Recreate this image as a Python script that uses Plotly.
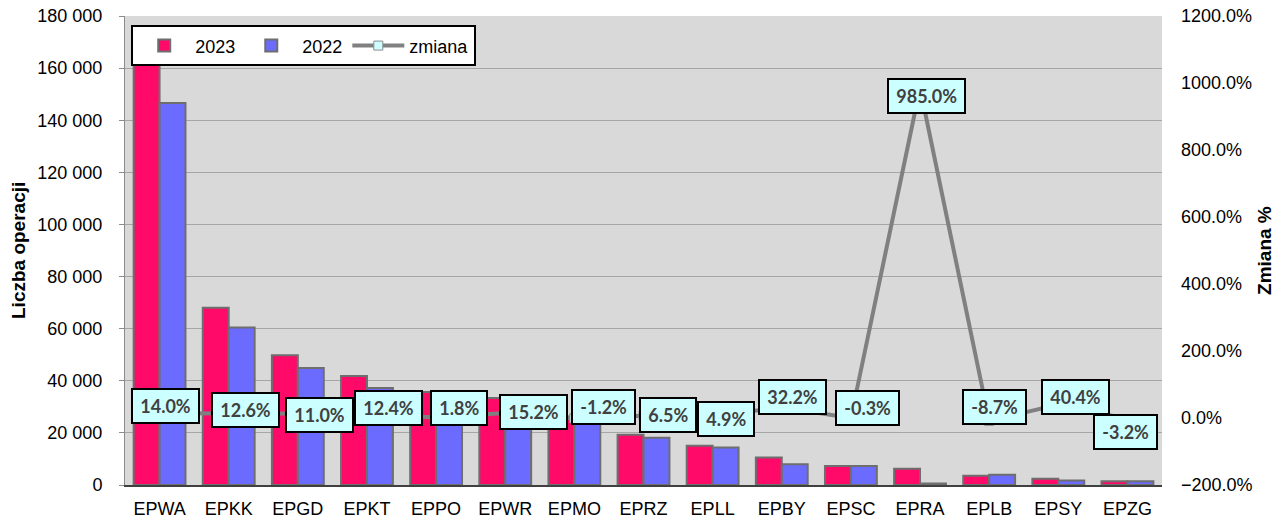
import plotly.graph_objects as go

categories = ["EPWA", "EPKK", "EPGD", "EPKT", "EPPO", "EPWR", "EPMO", "EPRZ",
              "EPLL", "EPBY", "EPSC", "EPRA", "EPLB", "EPSY", "EPZG"]
ops_2023 = [167100, 68000, 49800, 41800, 35700, 33400, 26300, 19300,
            15100, 10580, 7300, 6250, 3560, 2390, 1400]
ops_2022 = [146600, 60400, 44900, 37200, 35100, 29000, 26600, 18100,
            14400, 8000, 7320, 576, 3900, 1700, 1450]
change = [0.140, 0.126, 0.110, 0.124, 0.018, 0.152, -0.012, 0.065,
          0.049, 0.322, -0.003, 9.850, -0.087, 0.404, -0.032]
change_labels = ["14.0%", "12.6%", "11.0%", "12.4%", "1.8%", "15.2%", "-1.2%", "6.5%",
                 "4.9%", "32.2%", "-0.3%", "985.0%", "-8.7%", "40.4%", "-3.2%"]

# label offsets (pixels) relative to the line points
label_dx = [6, 17, 22, 22, 23, 28, 29, 24, 13, 11, 17, 6, 5, 17, -2]
label_dy = [7, 4, -1, 6, 9, 1, 11, 1, -3, 10, 10, -8, 14, 7, -13]

fig = go.Figure()
fig.add_trace(go.Bar(
    x=categories, y=ops_2023, name="2023",
    marker=dict(color="#FF0A68", line=dict(color="#6E6E6E", width=2)),
))
fig.add_trace(go.Bar(
    x=categories, y=ops_2022, name="2022",
    marker=dict(color="#6B6BFF", line=dict(color="#6E6E6E", width=2)),
))
fig.add_trace(go.Scatter(
    x=categories, y=change, name="zmiana", yaxis="y2",
    mode="lines+markers",
    line=dict(color="#808080", width=4),
    marker=dict(symbol="square", size=9, color="#CCFFFF",
                line=dict(color="#8C8C8C", width=1)),
))

for c, v, t, dx, dy in zip(categories, change, change_labels, label_dx, label_dy):
    fig.add_annotation(
        x=c, y=v, xref="x", yref="y2", text="\u2009" + t + "\u2009",
        showarrow=False, xshift=dx, yshift=dy,
        font=dict(family="Lato", size=18, color="#404040", weight="bold"),
        bgcolor="#CCFFFF", bordercolor="#000000", borderwidth=2, borderpad=5,
    )

title_font = dict(family="Liberation Sans", size=19, color="#000000")
fig.add_annotation(text="<b>Liczba operacji</b>", xref="paper", yref="paper",
                   x=-0.1027, y=0.5, textangle=-90, showarrow=False,
                   xanchor="center", yanchor="middle", font=title_font)
fig.add_annotation(text="<b>Zmiana %</b>", xref="paper", yref="paper",
                   x=1.0988, y=0.5, textangle=-90, showarrow=False,
                   xanchor="center", yanchor="middle", font=title_font)

tick_font = dict(family="Liberation Sans", size=18, color="#000000")

fig.update_layout(
    width=1275, height=515,
    margin=dict(l=117, r=121, t=8, b=38),
    paper_bgcolor="#FFFFFF",
    plot_bgcolor="#D9D9D9",
    separators=". ",
    barmode="group",
    bargap=0.25,
    bargroupgap=0,
    showlegend=True,
    legend=dict(
        orientation="h", x=0.006, y=0.98, xanchor="left", yanchor="top",
        bgcolor="#FFFFFF", bordercolor="#000000", borderwidth=2,
        font=dict(family="Liberation Sans", size=18, color="#000000"),
        traceorder="normal", itemwidth=52, tracegroupgap=0,
    ),
    xaxis=dict(
        type="category", automargin=False, ticklabeloverflow="allow",
        range=[-0.5, len(categories) - 0.5],
        tickfont=tick_font,
        showgrid=False,
        showline=True, linecolor="#404040", linewidth=2,
        ticks="", ticklabelstandoff=6,
    ),
    yaxis=dict(
        range=[0, 180000], dtick=20000, tickformat=",d", automargin=False,
        ticklabeloverflow="allow",
        tickfont=tick_font,
        showgrid=True, gridcolor="#A6A6A6", gridwidth=1,
        showline=True, linecolor="#8C8C8C", linewidth=1,
        ticks="outside", ticklen=5, tickcolor="#8C8C8C",
        ticklabelstandoff=13,
        zeroline=False,
    ),
    yaxis2=dict(
        overlaying="y", side="right", automargin=False,
        ticklabeloverflow="allow",
        range=[-2, 12], dtick=2, tickformat=".1%",
        tickfont=tick_font,
        showgrid=False, zeroline=False,
        ticks="", ticklabelstandoff=18,
    ),
)

fig.write_html("out.html")
